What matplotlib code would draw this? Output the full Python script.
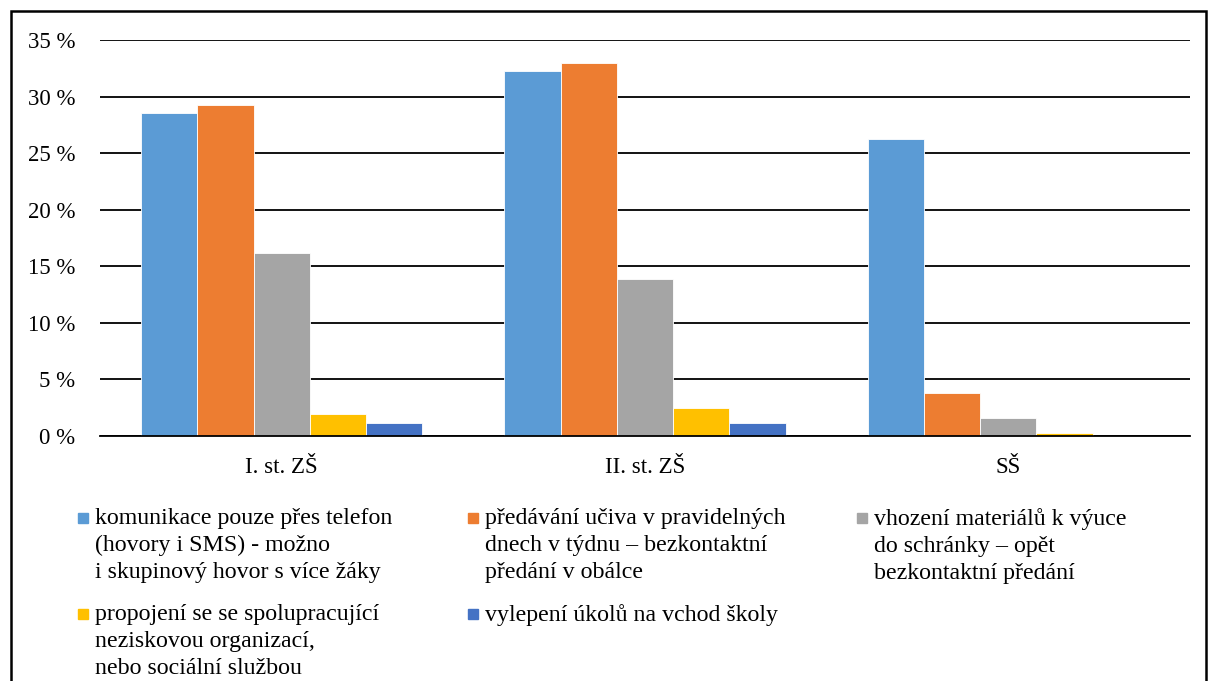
import numpy as np
import matplotlib
matplotlib.use("Agg")
from matplotlib import pyplot as plt
from matplotlib.patches import Rectangle

plt.rcParams['font.family'] = ['Liberation Serif', 'DejaVu Serif']

categories = ["I. st. ZŠ", "II. st. ZŠ", "SŠ"]
series_labels = [
    "komunikace pouze přes telefon\n(hovory i SMS) - možno\ni skupinový hovor s více žáky",
    "předávání učiva v pravidelných\ndnech v týdnu – bezkontaktní\npředání v obálce",
    "vhození materiálů k výuce\ndo schránky – opět\nbezkontaktní předání",
    "propojení se se spolupracující\nneziskovou organizací,\nnebo sociální službou",
    "vylepení úkolů na vchod školy",
]
telefon = [28.55, 32.25, 26.25]
obalka = [29.25, 32.95, 3.8]
schranka = [16.15, 13.85, 1.55]
neziskovka = [1.95, 2.45, 0.25]
vchod = [1.15, 1.15, 0.0]
series_values = [telefon, obalka, schranka, neziskovka, vchod]
colors = ["#5B9BD5", "#ED7D31", "#A5A5A5", "#FFC000", "#4472C4"]
yticks = [0, 5, 10, 15, 20, 25, 30, 35]

W, H = 1209, 681
fs = 16.5
fig = plt.figure(figsize=(W / 100, H / 100), dpi=100)
ax = fig.add_axes([100 / W, 1 - 436 / H, 1090 / W, 396 / H])

x = np.arange(len(categories))
w = 0.155
for i, vals in enumerate(series_values):
    ax.bar(x + (i - 2) * w, vals, width=w, color=colors[i],
           edgecolor="white", linewidth=0.6, zorder=3)

ax.set_xlim(-0.5, 2.5)
ax.set_ylim(0, 35)
ax.set_yticks(yticks)
ax.set_yticklabels([f"{t} %" for t in yticks], fontsize=fs)
ax.set_xticks(x)
ax.set_xticklabels(categories, fontsize=fs)
ax.tick_params(axis="y", length=0, pad=18)
ax.tick_params(axis="x", length=0, pad=15)
ax.grid(axis="y", color="black", linewidth=1.3, zorder=0)
for s in ["left", "right", "top"]:
    ax.spines[s].set_visible(False)
ax.spines["bottom"].set_linewidth(1.3)
ax.spines["bottom"].set_zorder(4)

# legend drawn by hand, row by row
col_x = [78, 468, 857]
row_y = [518, 614]
for i, lab in enumerate(series_labels):
    px = col_x[i % 3]
    py = row_y[i // 3]
    fig.patches.append(Rectangle((px / W, 1 - (py + 5) / H), 10 / W, 10 / H,
                                 transform=fig.transFigure, color=colors[i]))
    fig.text((px + 17) / W, 1 - (py - 10) / H, lab, fontsize=17.2,
             va="top", ha="left", linespacing=1.38)

# outer frame
fig.patches.append(Rectangle((11 / W, -0.02), 1195 / W, 1 - 11 / H + 0.02,
                             transform=fig.transFigure, fill=False,
                             edgecolor="black", linewidth=1.8))

fig.savefig("out.png", dpi=100)
